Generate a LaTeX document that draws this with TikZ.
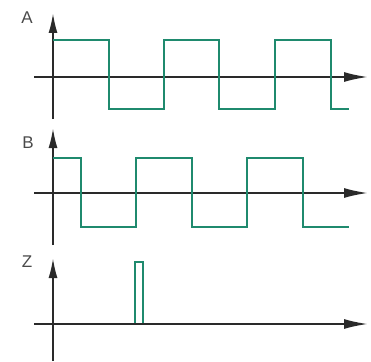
\documentclass[tikz,border=0pt]{standalone}
\usepackage{fontspec}
\setsansfont{Liberation Sans}
\usepackage{xcolor}
\definecolor{wavegreen}{HTML}{1F8A6E}
\definecolor{axisgray}{HTML}{2A2A2A}
\usetikzlibrary{arrows.meta}

\begin{document}
\begin{tikzpicture}[x=1pt, y=-1pt,
    axis/.style={draw=axisgray, line width=2pt},
    vtip/.style={-{Latex[length=20pt, width=9pt]}},
    htip/.style={-{Latex[length=24pt, width=10pt]}},
    wave/.style={draw=wavegreen, line width=2.2pt},
    pulse/.style={draw=wavegreen, line width=1.6pt, fill=white},
    sig/.style={font=\sffamily\fontsize{17}{17}\selectfont, text=axisgray!85}]
  \useasboundingbox (0,0) rectangle (371,361);
  % Signal A
  \begin{scope}[shift={(53,77)}]
    \coordinate (a0) at (0,42);
    \coordinate (a1) at (0,-64);
    \coordinate (a2) at (-19,0);
    \coordinate (a3) at (315,0);
    \draw[axis, vtip] (a0) -- (a1);
    \draw[axis, htip] (a2) -- (a3);
    \draw[wave] (0,-37) -| (56,32) -| (111,-37) -| (166,32) -| (222,-37)
      -| (278,32) -- (296,32);
    \node[sig] (la) at (-26,-59) {A};
  \end{scope}
  % Signal B
  \begin{scope}[shift={(53,193)}]
    \coordinate (b0) at (0,52);
    \coordinate (b1) at (0,-65);
    \coordinate (b2) at (-19,0);
    \coordinate (b3) at (315,0);
    \draw[axis, vtip] (b0) -- (b1);
    \draw[axis, htip] (b2) -- (b3);
    \draw[wave] (0,-35) -| (28,34) -| (83,-35) -| (139,34) -| (194,-35)
      -| (250,34) -- (296,34);
    \node[sig] (lb) at (-25,-50) {B};
  \end{scope}
  % Output Z
  \begin{scope}[shift={(53,324)}]
    \coordinate (z0) at (0,37);
    \coordinate (z1) at (0,-66);
    \coordinate (z2) at (-19,0);
    \coordinate (z3) at (315,0);
    \draw[pulse] (82,0) rectangle (90,-62);
    \draw[axis, vtip] (z0) -- (z1);
    \draw[axis, htip] (z2) -- (z3);
    \node[sig] (lz) at (-26,-62) {Z};
  \end{scope}
\end{tikzpicture}
\end{document}
